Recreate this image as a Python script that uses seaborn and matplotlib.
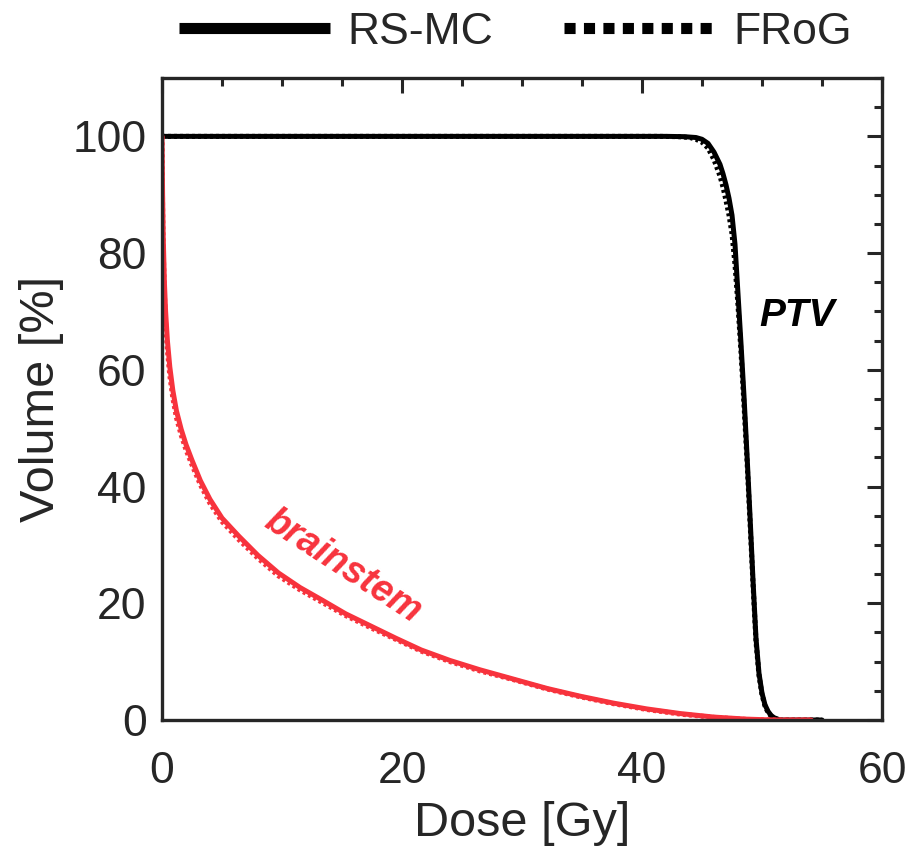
import matplotlib
matplotlib.use("Agg")
import matplotlib.pyplot as plt
import seaborn as sns
from matplotlib.lines import Line2D
from matplotlib.ticker import MultipleLocator

# ---------------- data ----------------
ptv_rsmc_dose = [0, 42, 43.5, 44.5, 45, 45.5, 46, 46.5, 46.75, 47, 47.25, 47.5, 47.75, 48, 48.25, 48.5,
                 48.75, 49, 49.25, 49.5, 49.75, 50, 50.25, 50.5, 50.75, 51, 51.5, 55]
ptv_rsmc_vol = [100, 100, 99.95, 99.8, 99.5, 98.8, 97.3, 95.2, 93.6, 91.7, 89.4, 86.5, 81.5, 73.0, 64.5, 55.5,
                45.5, 35.0, 24.0, 14.0, 8.0, 4.6, 2.6, 1.5, 0.8, 0.4, 0.0, 0.0]

ptv_frog_dose = [0, 41.5, 43, 44, 44.5, 45, 45.5, 46, 46.5, 46.75, 47, 47.25, 47.5, 47.75, 48, 48.25, 48.5,
                 48.75, 49, 49.25, 49.5, 49.75, 50, 50.25, 50.5, 50.75, 51, 51.5, 55]
ptv_frog_vol = [100, 100, 99.95, 99.8, 99.5, 99.0, 98.0, 96.0, 93.2, 91.3, 89.0, 86.5, 83.3, 78.0, 71.0, 63.0, 54.0,
                44.5, 34.0, 23.3, 13.4, 7.6, 4.3, 2.4, 1.3, 0.7, 0.3, 0.0, 0.0]

bs_rsmc_dose = [0, 0.05, 0.1, 0.2, 0.3, 0.45, 0.65, 0.9, 1.2, 1.6, 2.0, 2.5, 3.2, 4.0, 5.0, 6.4, 8.0,
                9.7, 11.5, 13.3, 15.3, 17.5, 19.5, 21.6, 24.0, 26.5, 29.3, 32.1, 34.8, 37.6, 40.4,
                43.2, 46.0, 48.7, 51.0, 54.1]
bs_rsmc_vol = [100, 90, 83, 75, 70, 65, 60.5, 56.5, 53, 49.8, 47.2, 44.5, 41.0, 37.8, 34.6, 31.5, 28.2,
               25.2, 22.7, 20.6, 18.2, 16.0, 14.0, 12.0, 10.2, 8.6, 7.0, 5.4, 4.1, 2.9, 1.9,
               1.1, 0.5, 0.15, 0.0, 0.0]

bs_frog_dose = [0, 0.05, 0.1, 0.2, 0.3, 0.45, 0.65, 0.9, 1.2, 1.6, 2.0, 2.5, 3.2, 4.0, 5.0, 6.4, 8.0,
                9.7, 11.5, 13.3, 15.3, 17.5, 19.5, 21.6, 24.0, 26.5, 29.3, 32.1, 34.8, 37.6, 40.4,
                43.2, 46.0, 48.7, 51.0, 54.0]
bs_frog_vol = [100, 88, 81, 73, 68, 63.3, 59, 55.2, 51.8, 48.8, 46.3, 43.7, 40.3, 37.1, 34.0, 30.9, 27.7,
               24.7, 22.3, 20.2, 17.9, 15.7, 13.8, 11.8, 10.0, 8.4, 6.9, 5.3, 4.0, 2.8, 1.8,
               1.0, 0.45, 0.1, 0.0, 0.0]

x_ticks = [0, 20, 40, 60]
y_ticks = [0, 20, 40, 60, 80, 100]
legend_labels = ["RS-MC", "FRoG"]
structure_labels = ["PTV", "brainstem"]

RED = "#F7333D"
DARK = "#262626"

# ---------------- style ----------------
sns.set_theme(style="white")
plt.rcParams["font.family"] = ["Liberation Sans", "DejaVu Sans"]

fig = plt.figure(figsize=(9.07, 8.49), dpi=100)
ax = fig.add_axes([162 / 907, 1 - 720 / 849, 720 / 907, 642 / 849])

lw = 3.6
sns.lineplot(x=ptv_frog_dose, y=ptv_frog_vol, ax=ax, color="black", lw=lw,
             linestyle=(0, (0.6, 0.6)), estimator=None, sort=False)
sns.lineplot(x=ptv_rsmc_dose, y=ptv_rsmc_vol, ax=ax, color="black", lw=lw,
             estimator=None, sort=False)
sns.lineplot(x=bs_frog_dose, y=bs_frog_vol, ax=ax, color=RED, lw=lw,
             linestyle=(0, (0.6, 0.6)), estimator=None, sort=False)
sns.lineplot(x=bs_rsmc_dose, y=bs_rsmc_vol, ax=ax, color=RED, lw=lw,
             estimator=None, sort=False)

ax.set_xlim(0, 60)
ax.set_ylim(0, 110)
ax.set_xticks(x_ticks)
ax.set_yticks(y_ticks)
ax.xaxis.set_minor_locator(MultipleLocator(5))
ax.yaxis.set_minor_locator(MultipleLocator(5))
ax.tick_params(which="both", direction="in", top=True, right=True,
               color=DARK, width=2.2, labelcolor=DARK, labelsize=32)
ax.tick_params(which="major", length=11)
ax.tick_params(which="minor", length=6)
ax.tick_params(axis="x", which="major", pad=22)
ax.tick_params(axis="y", which="major", pad=11)
for sp in ax.spines.values():
    sp.set_visible(True)
    sp.set_color(DARK)
    sp.set_linewidth(2.4)

ax.set_xlabel("Dose [Gy]", fontsize=35, color=DARK, labelpad=7)
ax.set_ylabel("Volume [%]", fontsize=35, color=DARK, labelpad=6)

ax.text(52.9, 69.3, structure_labels[0], fontsize=28, fontweight="bold",
        fontstyle="italic", color="black", ha="center", va="center")
ax.text(15.1, 26.3, structure_labels[1], fontsize=27, fontweight="bold",
        fontstyle="italic", color=RED, ha="center", va="center",
        rotation=-33, rotation_mode="anchor")

handles = [
    Line2D([0], [0], color="black", lw=8, solid_capstyle="butt"),
    Line2D([0], [0], color="black", lw=8, linestyle=(0, (1.0, 0.75)),
           dash_capstyle="butt"),
]
fig.legend(handles, legend_labels, loc="center", ncol=2, frameon=False,
           bbox_to_anchor=(0.568, 1 - 32 / 849), fontsize=32,
           handlelength=3.4, handletextpad=0.4, columnspacing=1.6)

fig.savefig("out.png", dpi=100)
